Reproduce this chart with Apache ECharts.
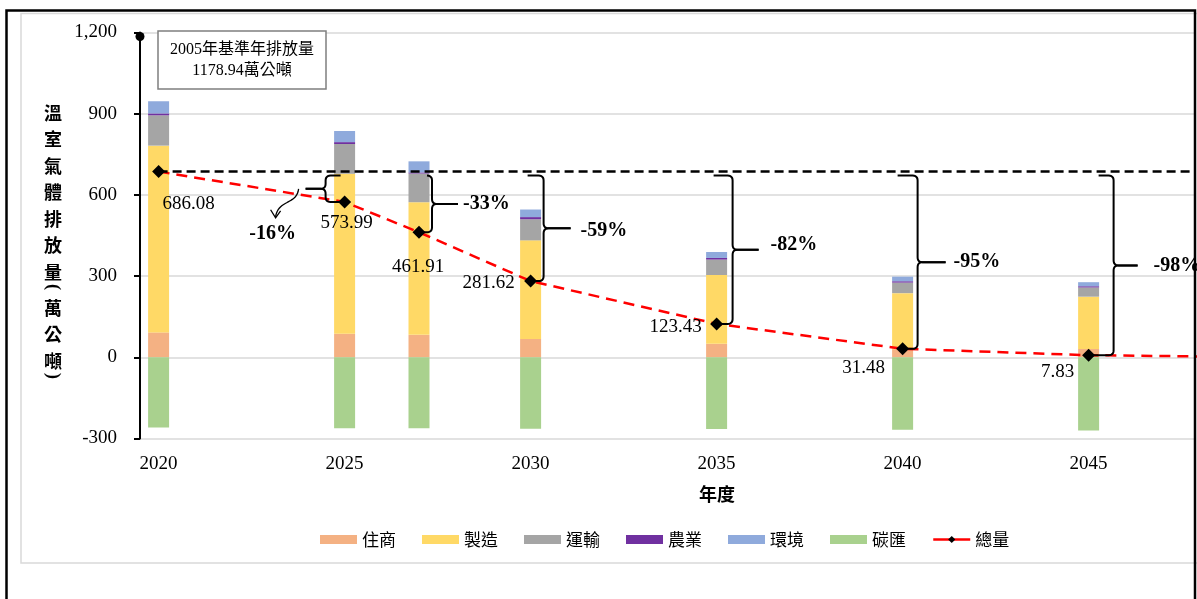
<!DOCTYPE html>
<html>
<head>
<meta charset="utf-8">
<script src="https://cdn.jsdelivr.net/npm/echarts@6/dist/echarts.min.js"></script>
<style>
  html, body { margin: 0; padding: 0; background: #fff; }
  #chart { width: 1197px; height: 599px; }
</style>
</head>
<body>
<div id="chart"></div>
<script>
// ---- data (萬公噸) ----
const years = [2020, 2025, 2027, 2030, 2035, 2040, 2045];
const residential = [92, 87, 83, 68, 50, 30, 31];        // 住商
const manufacturing = [690, 591, 490, 364, 254, 207, 193]; // 製造
const transport = [112, 110, 106, 78, 57, 39, 34];        // 運輸
const agriculture = [7, 7, 4, 8, 6, 5, 4.5];              // 農業
const environment = [45, 41, 41, 28, 22, 17, 15];         // 環境
const carbonSink = [-259, -262, -262, -264, -265, -268, -270]; // 碳匯
const totalYears = [2020, 2025, 2027, 2030, 2035, 2040, 2045, 2050];
const totals = [686.08, 573.99, 461.91, 281.62, 123.43, 31.48, 7.83, 0]; // 總量
const reductionLabels = ['-16%', '-33%', '-59%', '-82%', '-95%', '-98%'];
const xTickYears = [2020, 2025, 2030, 2035, 2040, 2045];
const baseNoteLines = ['2005年基準年排放量', '1178.94萬公噸'];
const yTitleChars = ['溫', '室', '氣', '體', '排', '放', '量', '(', '萬', '公', '噸', ')'];

// ---- styling / layout ----
const SERIF = '"Liberation Serif", "Times New Roman", "Noto Sans CJK TC", serif';
const CJK = '"Noto Sans CJK TC", "Liberation Serif", sans-serif';
const X_MIN = 2019.5, X_MAX = 2047.86;
const BAR_W = 21;

const stackDefs = [
  { name: '住商', values: residential, color: '#F4B183' },
  { name: '製造', values: manufacturing, color: '#FFD966' },
  { name: '運輸', values: transport, color: '#A5A5A5' },
  { name: '農業', values: agriculture, color: '#7030A0' },
  { name: '環境', values: environment, color: '#8FAADC' },
  { name: '碳匯', values: carbonSink, color: '#A9D18E' }
];

// value label offsets from each diamond centre
const valueLabelOffsets = [[30, 32], [2, 21], [-1, 35], [-42, 2], [-41, 3], [-39, 19], [-31, 17]];

// brace geometry, relative to each year's diamond
const braceLayout = [
  { bx: -19, topArm: -4, tip: -39, lab: [-33, 45], centered: true, arrow: true },
  { bx: 13, topArm: 8, tip: 39, lab: [5, 0] },
  { bx: 13, topArm: -3, tip: 40, lab: [10, 2] },
  { bx: 16, topArm: -3, tip: 42, lab: [12, -5] },
  { bx: 15, topArm: -5, tip: 43, lab: [8, 0] },
  { bx: 25, topArm: 10, tip: 49, lab: [16, 0] }
];

// stacked ranges for the sector bars
const posBase = years.map(() => 0);
const negBase = years.map(() => 0);
function renderSegment(params, api) {
  const x = api.value(0);
  const pLo = api.coord([x, api.value(1)]);
  const pHi = api.coord([x, api.value(2)]);
  return {
    type: 'rect',
    shape: { x: pLo[0] - BAR_W / 2, y: pHi[1], width: BAR_W, height: pLo[1] - pHi[1] },
    style: { fill: api.visual('color') }
  };
}
const barSeries = stackDefs.map(def => {
  const data = years.map((yr, i) => {
    const v = def.values[i];
    let lo, hi;
    if (v >= 0) { lo = posBase[i]; hi = lo + v; posBase[i] = hi; }
    else { hi = negBase[i]; lo = hi + v; negBase[i] = lo; }
    return [yr, lo, hi];
  });
  return {
    type: 'custom',
    name: def.name,
    renderItem: renderSegment,
    itemStyle: { color: def.color },
    encode: { x: 0, y: [1, 2] },
    data: data,
    z: 2,
    silent: true
  };
});

const totalSeries = {
  type: 'line',
  name: '總量',
  z: 4,
  symbol: 'diamond',
  symbolSize: 13,
  showAllSymbol: true,
  itemStyle: { color: '#000' },
  lineStyle: { color: '#FF0000', width: 2.5, type: [11, 7] },
  data: totalYears.map((yr, i) => {
    const item = { value: [yr, totals[i]] };
    if (i < valueLabelOffsets.length) {
      item.label = {
        show: true, position: 'inside', offset: valueLabelOffsets[i],
        formatter: () => totals[i].toFixed(2),
        fontFamily: SERIF, fontSize: 19, color: '#000'
      };
    } else {
      item.symbol = 'none';
      item.label = { show: false };
    }
    return item;
  }),
  markLine: {
    silent: true,
    symbol: 'none',
    label: { show: false },
    lineStyle: { color: '#000', width: 2.5, type: [9, 5] },
    data: [[{ coord: [years[0], totals[0]] }, { coord: [X_MAX, totals[0]] }]]
  },
  animation: false
};

const chart = echarts.init(document.getElementById('chart'));
chart.setOption({
  animation: false,
  backgroundColor: '#fff',
  grid: { left: 140, right: 2, top: 32.5, bottom: 160.5, containLabel: false, outerBoundsMode: 'none' },
  legend: {
    left: 320, top: 531, padding: 0,
    itemWidth: 37, itemHeight: 9, itemGap: 26,
    textStyle: { fontFamily: CJK, fontSize: 17, color: '#000' },
    data: stackDefs.map(d => ({ name: d.name, icon: 'rect' })).concat([
      { name: '總量', lineStyle: { type: 'solid', width: 2.5 } }
    ])
  },
  xAxis: {
    type: 'value', min: X_MIN, max: X_MAX,
    axisLine: { show: false, onZero: false },
    axisTick: { show: false },
    splitLine: { show: false },
    axisLabel: {
      customValues: xTickYears,
      formatter: v => String(v),
      margin: 16,
      fontFamily: SERIF, fontSize: 19, color: '#000'
    }
  },
  yAxis: {
    type: 'value', min: -300, max: 1200, interval: 300,
    axisLine: { show: true, onZero: false, lineStyle: { color: '#000', width: 2 } },
    axisTick: { show: true, length: 6, lineStyle: { color: '#000', width: 2 } },
    splitLine: { show: true, lineStyle: { color: '#D9D9D9', width: 1.5 } },
    axisLabel: {
      margin: 23,
      formatter: v => v.toLocaleString('en-US'),
      fontFamily: SERIF, fontSize: 19, color: '#000'
    }
  },
  series: barSeries.concat([totalSeries])
});

// ---- annotation layer (frames, titles, braces) ----
function px(x, y) { return chart.convertToPixel({ gridIndex: 0 }, [x, y]); }

// sampled quadratic / cubic curve points
function quad(p0, c, p1, n) {
  const pts = [];
  for (let k = 1; k <= n; k++) {
    const t = k / n, u = 1 - t;
    pts.push([u * u * p0[0] + 2 * u * t * c[0] + t * t * p1[0],
              u * u * p0[1] + 2 * u * t * c[1] + t * t * p1[1]]);
  }
  return pts;
}
function cubic(p0, c1, c2, p1, n) {
  const pts = [];
  for (let k = 1; k <= n; k++) {
    const t = k / n, u = 1 - t;
    pts.push([u * u * u * p0[0] + 3 * u * u * t * c1[0] + 3 * u * t * t * c2[0] + t * t * t * p1[0],
              u * u * u * p0[1] + 3 * u * u * t * c1[1] + 3 * u * t * t * c2[1] + t * t * t * p1[1]]);
  }
  return pts;
}

// one half of a curly brace: arm -> corner -> vertical -> tip
function braceHalf(xb, yArm, ym, xArm, xTip, dir) {
  const r = 5;
  const s = Math.sign(ym - yArm);
  let pts = [[xArm, yArm], [xb - dir * r, yArm]];
  pts = pts.concat(quad([xb - dir * r, yArm], [xb, yArm], [xb, yArm + s * r], 6));
  pts.push([xb, ym - s * r]);
  pts = pts.concat(quad([xb, ym - s * r], [xb, ym], [xb + dir * r, ym], 6));
  pts.push([xTip, ym]);
  return pts;
}

const graphics = [];

// outer frames
graphics.push({
  type: 'rect', z: 100, silent: true,
  shape: { x: 21, y: 13.5, width: 1300, height: 549.5 },
  style: { fill: 'none', stroke: '#D9D9D9', lineWidth: 1.5 }
});
graphics.push({
  type: 'rect', z: 101, silent: true,
  shape: { x: 6.5, y: 10.5, width: 1188.5, height: 650 },
  style: { fill: 'none', stroke: '#000', lineWidth: 2.5 }
});

// dot at the top of the value axis
const axisTop = px(X_MIN, 1200);
graphics.push({
  type: 'circle', z: 50, silent: true,
  shape: { cx: axisTop[0], cy: axisTop[1] + 4, r: 4.5 },
  style: { fill: '#000' }
});

// 2005 baseline note box
graphics.push({
  type: 'rect', z: 50, silent: true,
  shape: { x: 158, y: 31, width: 168, height: 58 },
  style: { fill: '#fff', stroke: '#7F7F7F', lineWidth: 1.5 }
});
baseNoteLines.forEach((t, i) => {
  graphics.push({
    type: 'text', z: 51, silent: true, x: 242, y: 50 + i * 21,
    style: { text: t, fontFamily: SERIF, fontSize: 16, fill: '#000', align: 'center', verticalAlign: 'middle' }
  });
});

// vertical y-axis title
let ty = 113;
yTitleChars.forEach((ch, i) => {
  const isParen = ch === '(' || ch === ')';
  if (i > 0) {
    const prevParen = yTitleChars[i - 1] === '(' || yTitleChars[i - 1] === ')';
    ty += isParen ? 15 : (prevParen ? 21 : 26.5);
  }
  graphics.push({
    type: 'text', z: 50, silent: true, x: 53, y: ty,
    rotation: isParen ? -Math.PI / 2 : 0,
    style: {
      text: ch, fontFamily: isParen ? SERIF : CJK, fontWeight: 'bold',
      fontSize: 18, fill: '#000', align: 'center', verticalAlign: 'middle'
    }
  });
});

// x-axis title
graphics.push({
  type: 'text', z: 50, silent: true, x: 717, y: 494,
  style: { text: '年度', fontFamily: CJK, fontWeight: 'bold', fontSize: 18, fill: '#000', align: 'center', verticalAlign: 'middle' }
});

// reduction braces relative to the 2020 level
const baseY = px(years[0], totals[0])[1];
braceLayout.forEach((b, k) => {
  const i = k + 1;
  const p = px(years[i], totals[i]);
  const yTop = baseY + 4;
  const yBot = p[1];
  const xb = p[0] + b.bx;
  const xTip = p[0] + b.tip;
  const ym = (yTop + yBot) / 2;
  const dir = Math.sign(xTip - xb);
  [braceHalf(xb, yTop, ym, p[0] + b.topArm, xTip, dir),
   braceHalf(xb, yBot, ym, p[0], xTip, dir)].forEach(pts => {
    graphics.push({
      type: 'polyline', z: 60, silent: true,
      shape: { points: pts },
      style: { fill: null, stroke: '#000', lineWidth: 2 }
    });
  });
  if (b.arrow) {
    const a = (dx, dy) => [xTip + dx, ym + dy];
    let pts = [a(-7, 0)];
    pts = pts.concat(cubic(a(-7, 0), a(-8, 9), a(-14, 11), a(-19, 14), 10));
    pts = pts.concat(cubic(a(-19, 14), a(-25, 17), a(-29, 21), a(-30, 28), 10));
    graphics.push({
      type: 'polyline', z: 60, silent: true,
      shape: { points: pts },
      style: { fill: null, stroke: '#000', lineWidth: 1.3 }
    });
    graphics.push({
      type: 'polyline', z: 60, silent: true,
      shape: { points: [a(-35, 21), a(-30, 29), a(-25, 22)] },
      style: { fill: null, stroke: '#000', lineWidth: 1.3 }
    });
  }
  graphics.push({
    type: 'text', z: 61, silent: true,
    x: xTip + b.lab[0], y: ym + b.lab[1],
    style: {
      text: reductionLabels[k], fontFamily: SERIF, fontWeight: 'bold', fontSize: 20,
      fill: '#000', align: b.centered ? 'center' : 'left', verticalAlign: 'middle'
    }
  });
});

chart.setOption({ graphic: graphics });
</script>
</body>
</html>
